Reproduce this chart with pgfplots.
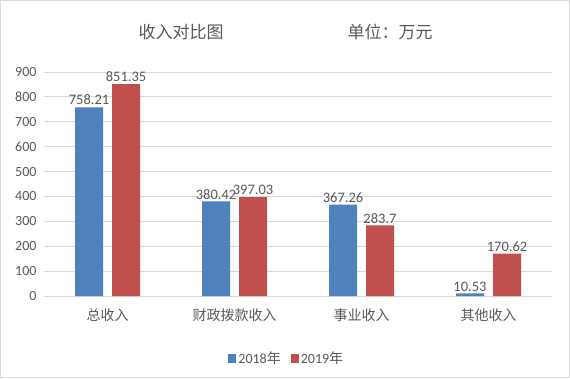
\documentclass[border=0pt]{standalone}
\usepackage{pgfplots}
\pgfplotsset{compat=1.18}
\usepackage{fontspec}
\setmainfont{Carlito}
\newfontfamily\cjk{Noto Sans CJK SC}
\definecolor{cblue}{HTML}{4F81BD}
\definecolor{cred}{HTML}{C0504D}
\definecolor{txt}{HTML}{595959}
\definecolor{grd}{HTML}{D9D9D9}
\begin{document}
\begin{tikzpicture}[x=1pt,y=1pt]
\useasboundingbox (0,0) rectangle (570,378);
\draw[grd, line width=1pt] (0.5,0.5) rectangle (569.5,377.5);
\node[txt, font=\cjk\fontsize{17}{20}\selectfont] at (181,346) {收入对比图};
\node[txt, font=\cjk\fontsize{17}{20}\selectfont] at (390,346) {单位：万元};
\begin{axis}[
  at={(44pt,82pt)}, anchor=south west,
  scale only axis, width=508pt, height=224pt,
  ybar=9pt, bar width=28pt,
  xmin=-0.5, xmax=3.5, ymin=0, ymax=900,
  xtick={0,1,2,3},
  xticklabels={总收入,财政拨款收入,事业收入,其他收入},
  xticklabel style={font=\cjk\fontsize{14}{16}\selectfont, text=txt, yshift=-9pt},
  ytick={0,100,...,900},
  yticklabel style={font=\fontsize{14}{16}\selectfont, text=txt, xshift=-4pt},
  /pgf/number format/assume math mode=true,
  major tick length=0pt,
  ymajorgrids, grid style={grd, line width=0.8pt},
  axis y line*=none, axis x line*=bottom,
  x axis line style={grd, line width=0.8pt, -},
  y axis line style={draw=none},
  separate axis lines,
  point meta=explicit symbolic,
  nodes near coords,
  nodes near coords style={font=\fontsize{14.5}{16}\selectfont, text=txt, inner sep=2pt},
  legend style={at={(0.478,-0.277)}, anchor=center, draw=none, legend columns=2,
    font=\fontsize{14}{16}\selectfont, text=txt,
    /tikz/every even column/.append style={column sep=8pt}},
  legend image code/.code={\fill[#1] (0pt,-4.5pt) rectangle (8pt,4.5pt);},
]
\addplot[fill=cblue, draw=none] coordinates {(0,758.21) [758.21] (1,380.42) [380.42] (2,367.26) [367.26] (3,10.53) [10.53]};
\addplot[fill=cred, draw=none] coordinates {(0,851.35) [851.35] (1,397.03) [397.03] (2,283.7) [283.7] (3,170.62) [170.62]};
\legend{2018{\cjk 年}, 2019{\cjk 年}}
\end{axis}
\end{tikzpicture}
\end{document}
